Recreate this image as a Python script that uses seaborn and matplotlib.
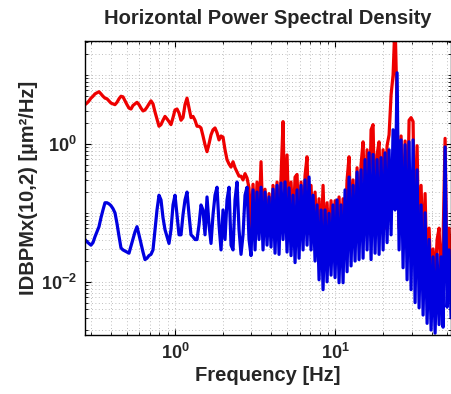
import numpy as np
import pandas as pd
import seaborn as sns
import matplotlib.pyplot as plt
from matplotlib.ticker import LogLocator, NullFormatter

# frequency grid of the spectrum (Hz), log spaced over the plotted span
freq = np.geomspace(0.274, 53.0, 184)

# PSD values (um^2/Hz)
psdRed = [
    3.7, 3.9, 4.2, 4.6, 4.9, 5.3, 5.5, 5.7, 5.3, 4.9,
    4.6, 4.5, 4.2, 3.9, 3.8, 3.7, 4.0, 4.5, 4.9, 4.8,
    4.2, 3.7, 3.3, 3.2, 3.6, 3.8, 4.0, 3.7, 3.3, 3.0,
    3.1, 3.4, 3.8, 4.2, 3.8, 2.9, 2.3, 1.8, 1.9, 2.2,
    2.5, 2.3, 2.1, 1.9, 2.4, 3.1, 3.2, 2.8, 2.2, 2.4,
    3.7, 4.6, 3.3, 2.4, 2.5, 2.2, 1.8, 1.8, 1.7, 1.3,
    0.97, 0.77, 1.0, 1.35, 1.6, 1.7, 1.45, 1.14, 1.3, 1.25,
    0.82, 0.59, 0.51, 0.46, 0.55, 0.45, 0.39, 0.34, 0.34, 0.30,
    0.37, 0.32, 0.23, 0.06, 0.26, 0.06, 0.28, 0.08, 0.55, 0.06,
    0.22, 0.05, 0.19, 0.05, 0.25, 0.05, 0.28, 0.06, 0.33, 2.1,
    0.06, 0.69, 0.06, 0.28, 0.06, 0.33, 0.36, 0.05, 0.28, 0.05,
    0.35, 0.65, 0.05, 0.25, 0.04, 0.20, 0.04, 0.16, 0.03, 0.25,
    0.03, 0.14, 0.03, 0.15, 0.03, 0.15, 0.03, 0.17, 0.03, 0.16,
    0.05, 0.30, 0.65, 0.05, 0.30, 0.05, 0.45, 0.05, 0.50, 1.07,
    0.06, 0.82, 0.06, 1.6, 1.9, 0.06, 0.7, 1.07, 0.06, 0.82,
    0.06, 0.94, 1.35, 5.1, 10, 60, 3.1, 0.06, 1.3, 0.05,
    1.1, 0.05, 2.2, 2.4, 2.1, 0.02, 0.94, 0.02, 0.25, 0.02,
    0.19, 0.01, 0.06, 0.01, 0.03, 0.01, 0.041, 0.06, 0.01, 0.04,
    1.2, 0.01, 0.06, 0.01,
]
psdBlue = [
    0.041, 0.038, 0.036, 0.034, 0.037, 0.045, 0.053, 0.063, 0.085, 0.11,
    0.14, 0.14, 0.135, 0.127, 0.115, 0.10, 0.07, 0.046, 0.031, 0.029,
    0.028, 0.027, 0.026, 0.033, 0.042, 0.053, 0.063, 0.048, 0.036, 0.027,
    0.021, 0.022, 0.024, 0.025, 0.029, 0.057, 0.11, 0.18, 0.154, 0.085,
    0.057, 0.045, 0.036, 0.057, 0.13, 0.18, 0.094, 0.048, 0.048, 0.094,
    0.154, 0.20, 0.094, 0.048, 0.045, 0.041, 0.041, 0.067, 0.13, 0.11,
    0.048, 0.17, 0.067, 0.036, 0.094, 0.18, 0.235, 0.067, 0.029, 0.11,
    0.041, 0.154, 0.235, 0.034, 0.029, 0.154, 0.28, 0.057, 0.025, 0.048,
    0.18, 0.235, 0.041, 0.024, 0.215, 0.029, 0.20, 0.041, 0.235, 0.029,
    0.20, 0.034, 0.17, 0.032, 0.22, 0.026, 0.25, 0.025, 0.27, 0.041,
    0.28, 0.027, 0.23, 0.024, 0.18, 0.019, 0.215, 0.022, 0.25, 0.029,
    0.30, 0.034, 0.33, 0.029, 0.18, 0.020, 0.13, 0.0107, 0.11, 0.0077,
    0.11, 0.010, 0.098, 0.0125, 0.13, 0.0115, 0.154, 0.0097, 0.13, 0.0097,
    0.215, 0.014, 0.33, 0.017, 0.25, 0.020, 0.39, 0.021, 0.42, 0.022,
    0.59, 0.029, 0.74, 0.021, 0.70, 0.026, 0.59, 0.025, 0.63, 0.029,
    0.74, 0.037, 0.82, 0.048, 1.6, 0.11, 10.7, 0.029, 1.14, 0.016,
    0.97, 0.0107, 1.07, 0.0077, 1.14, 0.0050, 0.42, 0.0042, 0.13, 0.0033,
    0.10, 0.0025, 0.041, 0.0020, 0.023, 0.0018, 0.025, 0.0024, 0.023, 0.0022,
    0.90, 0.0043, 0.029, 0.0030,
]

xTicks = [1, 10]
xTickLabels = [r'$10^{0}$', r'$10^{1}$']
yTicks = [1e-2, 1e0]
yTickLabels = [r'$10^{-2}$', r'$10^{0}$']

df = pd.DataFrame({
    'freq': np.concatenate([freq, freq]),
    'psd': psdRed + psdBlue,
    'trace': ['red'] * len(psdRed) + ['blue'] * len(psdBlue),
})

sns.set_style('white')
plt.rcParams['font.family'] = ['Liberation Sans', 'DejaVu Sans']
plt.rcParams['font.weight'] = 'bold'
plt.rcParams['mathtext.fontset'] = 'custom'
plt.rcParams['mathtext.rm'] = 'Liberation Sans:bold'
plt.rcParams['mathtext.bf'] = 'Liberation Sans:bold'
plt.rcParams['mathtext.default'] = 'rm'

fig = plt.figure(figsize=(4.52, 3.94), dpi=100)
ax = fig.add_axes([0.188, 0.150, 0.810, 0.746])

sns.lineplot(data=df, x='freq', y='psd', hue='trace', hue_order=['red', 'blue'],
             palette=['#ee0000', '#0000e0'], linewidth=2.3, legend=False,
             estimator=None, sort=False, ax=ax)

ax.set_xscale('log')
ax.set_yscale('log')
ax.set_xlim(0.274, 53.0)
ax.set_ylim(0.0017, 31)

ax.set_xticks(xTicks)
ax.set_xticklabels(xTickLabels)
ax.set_yticks(yTicks)
ax.set_yticklabels(yTickLabels)
ax.xaxis.set_minor_locator(LogLocator(base=10, subs=np.arange(1, 10), numticks=20))
ax.yaxis.set_minor_locator(LogLocator(base=10, subs=np.arange(1, 10), numticks=20))
ax.xaxis.set_minor_formatter(NullFormatter())
ax.yaxis.set_minor_formatter(NullFormatter())

ax.grid(True, which='both', linestyle=(0, (1, 3)), color='#aaaaaa', linewidth=0.6)
ax.set_axisbelow(True)
ax.tick_params(which='both', direction='in', top=True, right=True, bottom=True, left=True,
               labelsize=13, color='black')
ax.tick_params(which='major', length=4, width=0.8, pad=6)
ax.tick_params(which='minor', length=2, width=0.6)
for s in ax.spines.values():
    s.set_color('black')
    s.set_linewidth(1.0)

ax.set_title('Horizontal Power Spectral Density', fontsize=14.5, fontweight='bold', pad=12)
ax.set_xlabel('Frequency [Hz]', fontsize=14.5, fontweight='bold', labelpad=2)
ax.set_ylabel('IDBPMx(10,2) [µm²/Hz]', fontsize=14.5, fontweight='bold', labelpad=2)

fig.savefig('out.png', dpi=100)
